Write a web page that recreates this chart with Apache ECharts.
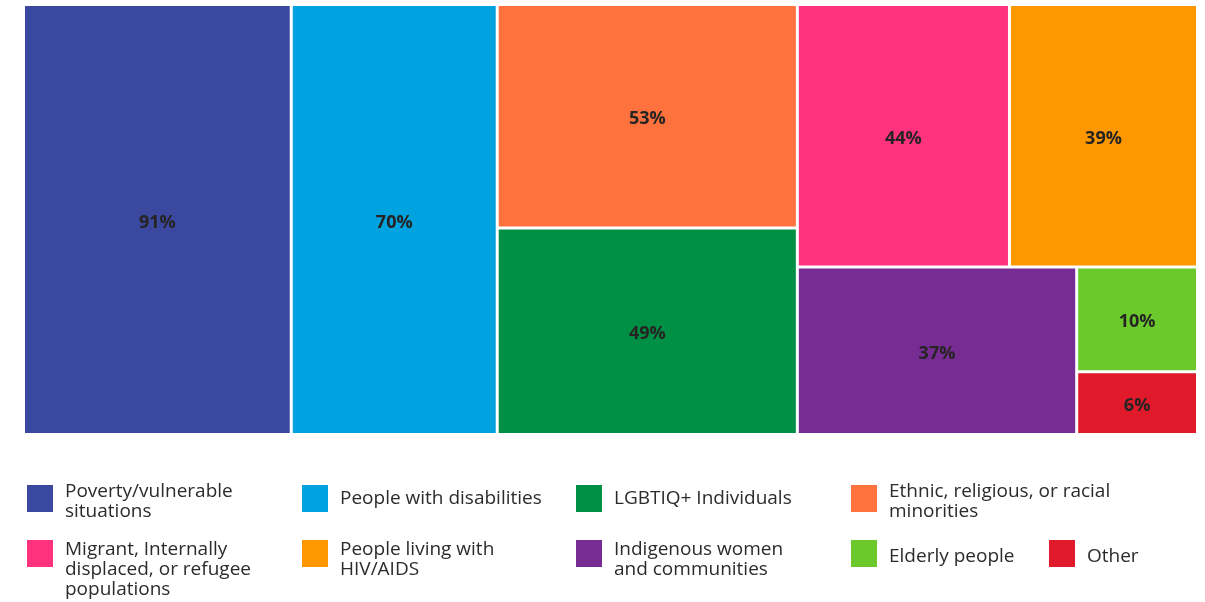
<!DOCTYPE html>
<html>
<head>
<meta charset="utf-8">
<title>Groups targeted</title>
<script src="https://cdn.jsdelivr.net/npm/echarts@6/dist/echarts.min.js"></script>
<style>
  html, body { margin: 0; padding: 0; background: #ffffff; }
  #chart { width: 1205px; height: 602px; }
</style>
</head>
<body>
<div id="chart"></div>
<script>
// Share of respondents working with each group (percent)
const categories = [
  'Poverty/vulnerable situations',
  'People with disabilities',
  'Ethnic, religious, or racial minorities',
  'LGBTIQ+ Individuals',
  'Migrant, Internally displaced, or refugee populations',
  'People living with HIV/AIDS',
  'Indigenous women and communities',
  'Elderly people',
  'Other'
];
const values = [91, 70, 53, 49, 44, 39, 37, 10, 6];
const colors = [
  '#3B48A0', '#00A2DF', '#FF723D', '#009045', '#FF327E',
  '#FF9800', '#772C94', '#6CC92B', '#E01A2B'
];

// Legend entries (display order and line breaks)
const legendOrder = [0, 1, 3, 2, 4, 5, 6, 7, 8];
const legendText = [
  'Poverty/vulnerable\nsituations',
  'People with disabilities',
  'Ethnic, religious, or racial\nminorities',
  'LGBTIQ+ Individuals',
  'Migrant, Internally\ndisplaced, or refugee\npopulations',
  'People living with\nHIV/AIDS',
  'Indigenous women\nand communities',
  'Elderly people',
  'Other'
];

// Nesting of the tiles (indices into the arrays above)
const tileGroups = [0, 1, [2, 3], [[4, 5], [6, [7, 8]]]];

function buildNode(g) {
  if (Array.isArray(g)) {
    const children = g.map(buildNode);
    const total = children.reduce((s, c) => s + c.value, 0);
    return { name: '', value: total, children: children, itemStyle: { color: '#ffffff' } };
  }
  return { name: categories[g], value: values[g], itemStyle: { color: colors[g] } };
}

const treeData = tileGroups.map(buildNode);

// Legend graphics
const colX = [27, 302, 576, 851, 1049];
const rowY = [485, 540];
const rowTextShift = [0, 3];
const legendSlots = [
  [0, 0], [1, 0], [2, 0], [3, 0],
  [0, 1], [1, 1], [2, 1], [3, 1], [4, 1]
];
const graphics = [];
legendOrder.forEach(function (idx, k) {
  const slot = legendSlots[k];
  const x = colX[slot[0]];
  const y = rowY[slot[1]];
  const text = legendText[idx];
  const lines = text.split('\n').length;
  graphics.push({
    type: 'rect',
    shape: { x: x, y: y, width: 26, height: 27 },
    style: { fill: colors[idx] },
    silent: true
  });
  graphics.push({
    type: 'text',
    x: x + 38,
    y: (lines > 1 ? y - 3 : y + 14) + rowTextShift[slot[1]],
    style: {
      text: text,
      font: '19px "Open Sans", "Noto Sans", sans-serif',
      fill: '#2b2b2b',
      lineHeight: 20,
      verticalAlign: lines > 1 ? 'top' : 'middle',
      align: 'left'
    },
    silent: true
  });
});

const chart = echarts.init(document.getElementById('chart'), null, { renderer: 'canvas' });
chart.setOption({
  animation: false,
  graphic: graphics,
  series: [{
    type: 'treemap',
    left: 25,
    top: 6,
    width: 1171,
    height: 427,
    roam: false,
    nodeClick: false,
    sort: false,
    squareRatio: 0.01,
    breadcrumb: { show: false },
    itemStyle: { borderWidth: 0, gapWidth: 3, borderColor: '#ffffff' },
    upperLabel: { show: false },
    label: {
      show: true,
      position: 'inside',
      offset: [0, 3],
      formatter: '{c}%',
      fontFamily: '"Open Sans", "Noto Sans", sans-serif',
      fontSize: 18,
      fontWeight: 'bold',
      color: '#252423'
    },
    emphasis: { disabled: true },
    data: treeData
  }]
});
</script>
</body>
</html>
